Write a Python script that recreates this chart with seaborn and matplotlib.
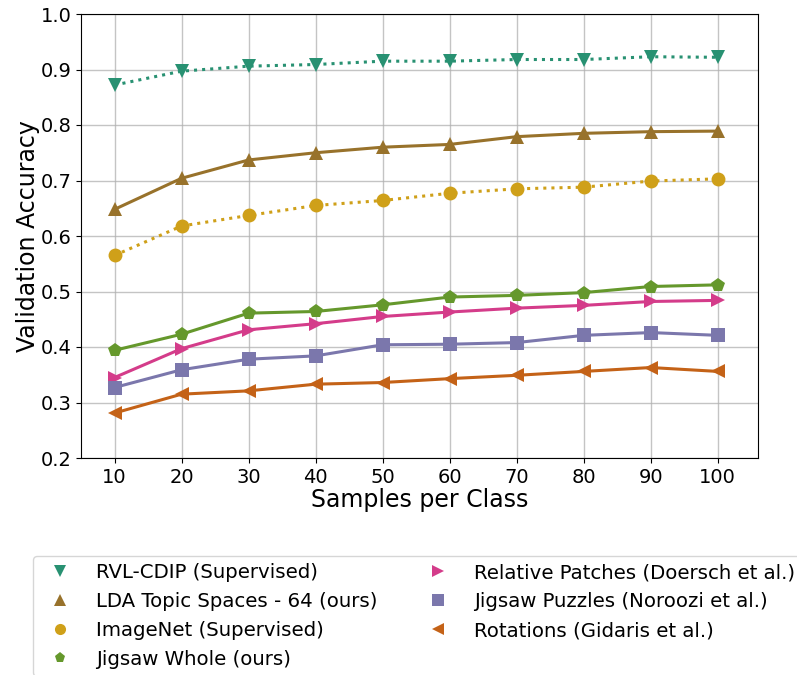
import matplotlib
matplotlib.use("Agg")
import matplotlib.pyplot as plt
from matplotlib.lines import Line2D
import seaborn as sns
import pandas as pd

samples = [10, 20, 30, 40, 50, 60, 70, 80, 90, 100]

rvl_cdip = [0.872, 0.897, 0.906, 0.909, 0.915, 0.915, 0.918, 0.918, 0.923, 0.922]
lda_topic = [0.648, 0.704, 0.737, 0.750, 0.760, 0.765, 0.779, 0.785, 0.788, 0.789]
imagenet = [0.565, 0.618, 0.637, 0.655, 0.664, 0.677, 0.685, 0.688, 0.699, 0.703]
jigsaw_whole = [0.394, 0.423, 0.461, 0.464, 0.476, 0.490, 0.493, 0.498, 0.509, 0.512]
relative_patches = [0.345, 0.397, 0.431, 0.442, 0.455, 0.463, 0.470, 0.475, 0.482, 0.484]
jigsaw_puzzles = [0.327, 0.359, 0.378, 0.384, 0.404, 0.405, 0.408, 0.421, 0.426, 0.421]
rotations = [0.281, 0.315, 0.321, 0.333, 0.336, 0.343, 0.349, 0.356, 0.363, 0.356]

labels = [
    "RVL-CDIP (Supervised)",
    "LDA Topic Spaces - 64 (ours)",
    "ImageNet (Supervised)",
    "Jigsaw Whole (ours)",
    "Relative Patches (Doersch et al.)",
    "Jigsaw Puzzles (Noroozi et al.)",
    "Rotations (Gidaris et al.)",
]
series = [rvl_cdip, lda_topic, imagenet, jigsaw_whole, relative_patches, jigsaw_puzzles, rotations]

pal = sns.color_palette("Dark2", 8, desat=0.8)
colors = [pal[0], pal[6], pal[5], pal[4], pal[3], pal[2], pal[1]]
markers = ["v", "^", "o", "p", ">", "s", "<"]
linestyles = [":", "-", ":", "-", "-", "-", "-"]

plt.rcParams["font.family"] = ["DejaVu Sans"]

fig = plt.figure(figsize=(7.97, 6.75), dpi=100)
ax = fig.add_axes([81 / 797, 1 - 458 / 675, 677 / 797, 444 / 675])

for lab, vals, c, m, ls in zip(labels, series, colors, markers, linestyles):
    df = pd.DataFrame({"Samples": samples, "Acc": vals})
    sns.lineplot(data=df, x="Samples", y="Acc", ax=ax, color=c, marker=m,
                 linestyle=ls, linewidth=2.2, markersize=10,
                 markeredgewidth=0, label=None, legend=False, zorder=3)

ax.set_xlim(5, 106)
ax.set_ylim(0.2, 1.0)
ax.set_xticks(samples)
ax.set_yticks([0.2, 0.3, 0.4, 0.5, 0.6, 0.7, 0.8, 0.9, 1.0])
ax.set_yticklabels(["0.2", "0.3", "0.4", "0.5", "0.6", "0.7", "0.8", "0.9", "1.0"])
ax.grid(True, color="#b0b0b0", linewidth=1.0, alpha=0.75, zorder=0)
ax.set_axisbelow(True)
ax.tick_params(labelsize=14)
ax.set_xlabel("Samples per Class", fontsize=17, labelpad=1)
ax.set_ylabel("Validation Accuracy", fontsize=17, labelpad=0)
for sp in ax.spines.values():
    sp.set_color("black")

handles = [Line2D([], [], color=c, marker=m, linestyle="None", markersize=8,
                  markeredgewidth=0) for c, m in zip(colors, markers)]
fig.legend(handles, labels, loc="upper left", bbox_to_anchor=(33 / 797, 1 - 556 / 675),
           ncol=2, fontsize=14.2, frameon=True, handletextpad=0.83,
           columnspacing=2.05, labelspacing=0.5, borderpad=0.37, borderaxespad=0)

fig.savefig("out.png", dpi=100)
